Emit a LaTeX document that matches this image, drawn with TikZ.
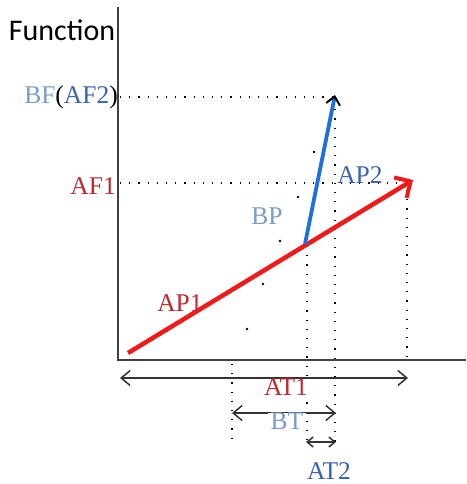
\documentclass[tikz,border=0pt]{standalone}
\usepackage{fontspec}
\setmainfont{Liberation Serif}
\newfontfamily\calfont{Carlito}
\usetikzlibrary{arrows.meta}
\definecolor{redarrow}{HTML}{F01A1A}
\definecolor{bluearrow}{HTML}{1E6FE0}
\definecolor{redtext}{HTML}{C0282D}
\definecolor{lightbluetext}{HTML}{7A9CC8}
\definecolor{darkbluetext}{HTML}{3A62B0}
\definecolor{axisgray}{HTML}{404040}
\tikzset{
  axisline/.style={draw=axisgray, line width=1.8pt},
  dotline/.style={draw=black, line width=1.3pt, dash pattern=on 1.2pt off 8pt},
  dimarrow/.style={draw=black!80, line width=1.5pt, {Straight Barb[length=9pt,width=15pt]}-{Straight Barb[length=9pt,width=15pt]}},
  smalldim/.style={draw=black!80, line width=1.5pt, {Straight Barb[length=6pt,width=10pt]}-{Straight Barb[length=6pt,width=10pt]}},
  lbl/.style={font=\fontsize{25.5}{29}\selectfont, inner sep=1pt},
  dotmark/.style={fill=black, circle, inner sep=0pt, minimum size=2.6pt}
}
\begin{document}
\begin{tikzpicture}[x=1pt,y=-1pt]
\useasboundingbox (0,0) rectangle (466,484);
% key coordinates
\coordinate (O) at (118,360);
\coordinate (Ytop) at (118,7);
\coordinate (Xend) at (466,360);
\coordinate (A0) at (128,353);
\coordinate (A1) at (413,180);
\coordinate (B0) at (305,244);
\coordinate (B1) at (335,95);
\coordinate (BFl) at (120,97);
\coordinate (BFr) at (335,97);
\coordinate (AFl) at (120,183);
\coordinate (AFr) at (407,183);
\coordinate (V1t) at (307,246);
\coordinate (V1b) at (307,442);
\coordinate (V2t) at (335,100);
\coordinate (V2b) at (335,446);
\coordinate (V3t) at (407,190);
\coordinate (V3b) at (407,360);
\coordinate (V4t) at (232,364);
\coordinate (V4b) at (232,438);
\coordinate (T1l) at (120,378);
\coordinate (T1r) at (408,378);
\coordinate (BTl) at (232,413);
\coordinate (BTr) at (336,413);
\coordinate (T2l) at (306,442);
\coordinate (T2r) at (336,442);

% dotted guide lines
\draw[dotline] (BFl) -- (BFr);
\draw[dotline] (AFl) -- (AFr);
\draw[dotline] (V1t) -- (V1b);
\draw[dotline] (V2t) -- (V2b);
\draw[dotline] (V3t) -- (V3b);
\draw[dotline] (V4t) -- (V4b);

% sparse dots
\node[dotmark] (d1) at (314,152) {};
\node[dotmark] (d2) at (298,197) {};
\node[dotmark] (d3) at (280,241) {};
\node[dotmark] (d4) at (263,284) {};
\node[dotmark] (d5) at (247,329) {};

% axes
\draw[axisline] (Ytop) -- (O) -- (Xend);

% arrows
\draw[draw=redarrow, line width=4.5pt, -{Straight Barb[length=12pt,width=24pt,line width=4pt]}] (A0) -- (A1);
\draw[draw=bluearrow, line width=3.8pt, -{Straight Barb[length=8pt,width=14pt,color=black,line width=2pt]}] (B0) -- (B1);

% dimension arrows
\draw[dimarrow] (T1l) -- (T1r);
\draw[dimarrow] (BTl) -- (BTr);
\draw[smalldim] (T2l) -- (T2r);

% labels
\node[inner sep=1pt, font=\fontsize{30}{34}\selectfont, anchor=center] (func) at (62,30) {\calfont Function};
\node[lbl, anchor=east] (bf) at (119,97) {\textcolor{lightbluetext}{BF}(\textcolor{darkbluetext}{AF2})};
\node[lbl, anchor=east, text=redtext] (af1) at (117,186) {AF1};
\node[lbl, text=darkbluetext] (ap2) at (360,175) {AP2};
\node[lbl, text=lightbluetext] (bp) at (267,216) {BP};
\node[lbl, text=redtext] (ap1) at (180,303) {AP1};
\node[lbl, text=redtext, fill=white, inner xsep=6pt, inner ysep=0pt] (at1) at (286,387) {AT1};
\node[lbl, text=lightbluetext, fill=white, inner xsep=3pt, inner ysep=0pt] (bt) at (287,421) {BT};
\node[lbl, text=darkbluetext] (at2) at (329,471) {AT2};
\end{tikzpicture}
\end{document}
